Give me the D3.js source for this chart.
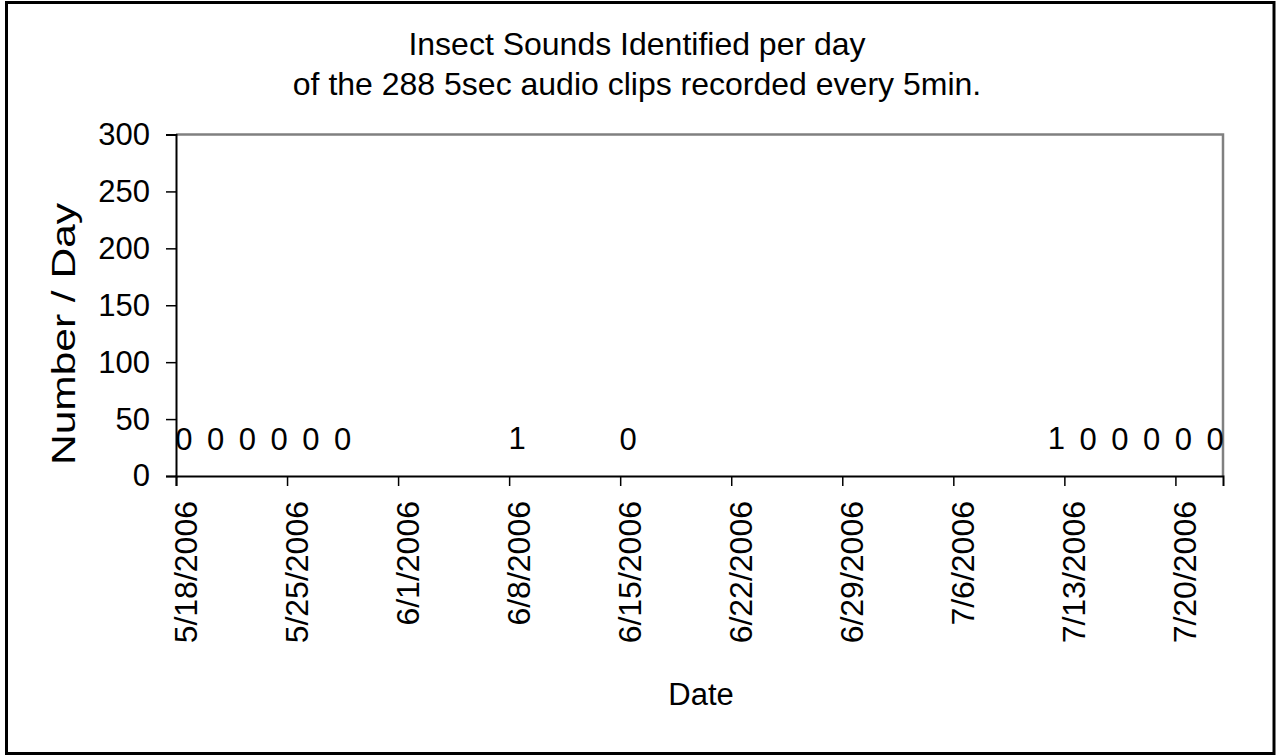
<!DOCTYPE html>
<html>
<head>
<meta charset="utf-8">
<script src="https://cdn.jsdelivr.net/npm/d3@7"></script>
<style>
  html, body { margin: 0; padding: 0; background: #fff; }
  svg { display: block; font-family: "Liberation Sans", Arial, sans-serif; }
</style>
</head>
<body>
<svg id="chart" width="1283" height="755"></svg>
<script>
// Days with a count, and the number of insect sounds identified on each
const sampleDates = ["2006-05-18", "2006-05-20", "2006-05-22", "2006-05-24", "2006-05-26", "2006-05-28",
                     "2006-06-08", "2006-06-15",
                     "2006-07-12", "2006-07-14", "2006-07-16", "2006-07-18", "2006-07-20", "2006-07-22"];
const soundCounts = [0, 0, 0, 0, 0, 0, 1, 0, 1, 0, 0, 0, 0, 0];

// Axis settings
const dateTicks = ["2006-05-18", "2006-05-25", "2006-06-01", "2006-06-08", "2006-06-15", "2006-06-22",
                   "2006-06-29", "2006-07-06", "2006-07-13", "2006-07-20"];
const dateRange = ["2006-05-18", "2006-07-23"];
const yTicks = [0, 50, 100, 150, 200, 250, 300];
const titleLines = ["Insect Sounds Identified per day", "of the 288 5sec audio clips recorded every 5min."];

const parse = d3.utcParse("%Y-%m-%d");
const fmt = d3.utcFormat("%-m/%-d/%Y");

const svg = d3.select("#chart");
const plot = { left: 176, right: 1223, top: 134.5, bottom: 476 };

// outer chart border
svg.append("rect")
  .attr("x", 6.5).attr("y", 2.5).attr("width", 1267.5).attr("height", 751)
  .attr("fill", "#fff").attr("stroke", "#000").attr("stroke-width", 3);

const x = d3.scaleUtc()
  .domain(dateRange.map(parse))
  .range([plot.left, plot.right]);
const y = d3.scaleLinear()
  .domain([0, 300])
  .range([plot.bottom, plot.top]);

// plot area frame (top / right in gray)
svg.append("path")
  .attr("d", `M${plot.left},${plot.top}H${plot.right}V${plot.bottom}`)
  .attr("fill", "none").attr("stroke", "#808080").attr("stroke-width", 2.5);

// Y axis
const yAxis = svg.append("g")
  .attr("transform", `translate(${plot.left},0)`)
  .call(d3.axisLeft(y).tickValues(yTicks).tickSize(10).tickPadding(16).tickFormat(d3.format("d")));
yAxis.select(".domain").attr("stroke", "#000").attr("stroke-width", 2);
yAxis.selectAll(".tick line").attr("stroke", "#000").attr("stroke-width", 1.5);
yAxis.selectAll(".tick text")
  .attr("font-size", 31).attr("fill", "#000")
  .attr("font-family", "Liberation Sans, Arial, sans-serif");

// X axis (date ticks weekly)
const xAxis = svg.append("g")
  .attr("transform", `translate(0,${plot.bottom})`)
  .call(d3.axisBottom(x).tickValues(dateTicks.map(parse)).tickSize(10).tickFormat(fmt));
xAxis.select(".domain").attr("stroke", "#000").attr("stroke-width", 2);
xAxis.selectAll(".tick line").attr("stroke", "#000").attr("stroke-width", 1.5);
xAxis.selectAll(".tick text")
  .attr("font-size", 32).attr("fill", "#000")
  .attr("font-family", "Liberation Sans, Arial, sans-serif")
  .attr("text-anchor", "end")
  .attr("x", 0).attr("y", 0).attr("dy", null)
  .attr("transform", "translate(20,25) rotate(-90)");

// data labels for each day, centred on the day
const pts = sampleDates.map((d, i) => ({ date: d3.utcHour.offset(parse(d), 12), value: soundCounts[i] }));
svg.append("g").selectAll("text")
  .data(pts)
  .join("text")
  .attr("x", d => x(d.date))
  .attr("y", d => y(d.value) - 26)
  .attr("text-anchor", "middle")
  .attr("font-size", 31)
  .attr("fill", "#000")
  .text(d => d.value);

// title
svg.append("text")
  .attr("x", 637).attr("y", 55)
  .attr("text-anchor", "middle").attr("font-size", 32).attr("fill", "#000")
  .selectAll("tspan")
  .data(titleLines)
  .join("tspan")
  .attr("x", 637)
  .attr("dy", (d, i) => i === 0 ? 0 : 40)
  .text(d => d);

// axis titles
svg.append("text")
  .attr("transform", "translate(75,334) rotate(-90)")
  .attr("text-anchor", "middle").attr("font-size", 34).attr("fill", "#000")
  .attr("textLength", 262).attr("lengthAdjust", "spacingAndGlyphs")
  .text("Number / Day");

svg.append("text")
  .attr("x", 701).attr("y", 705)
  .attr("text-anchor", "middle").attr("font-size", 31).attr("fill", "#000")
  .text("Date");
</script>
</body>
</html>
